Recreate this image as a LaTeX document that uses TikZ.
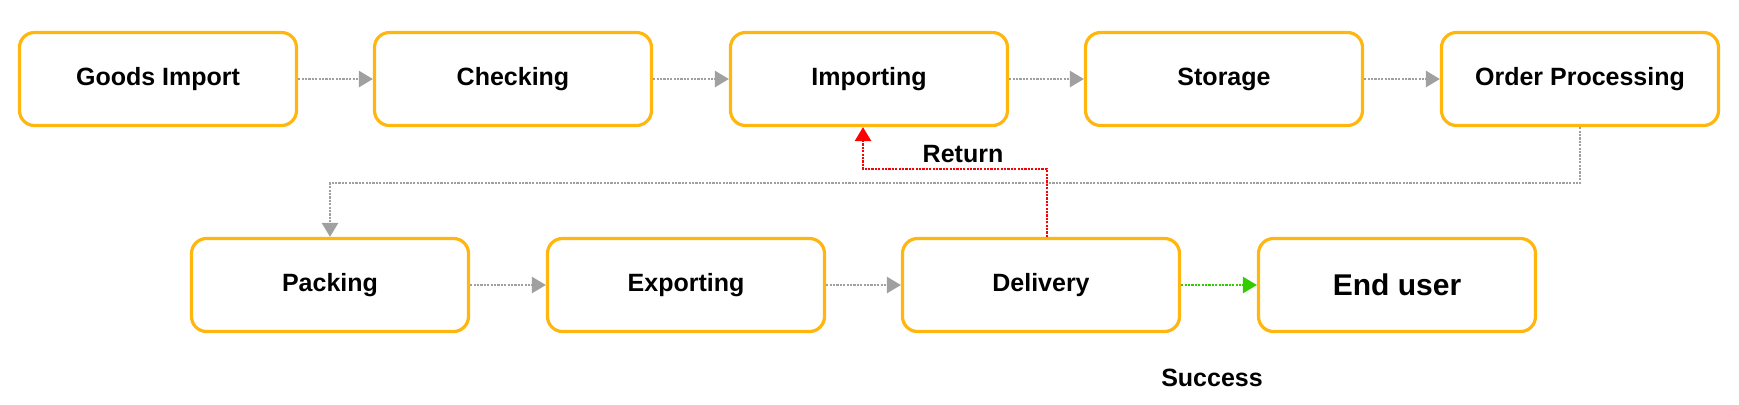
\documentclass[tikz,border=0pt]{standalone}
\usepackage{fontspec}
\setmainfont{Liberation Sans}
\usetikzlibrary{arrows.meta}
\definecolor{boxorange}{HTML}{FFB60F}
\definecolor{linkgray}{HTML}{A0A0A0}
\definecolor{backred}{HTML}{FF0000}
\definecolor{okgreen}{HTML}{33CC00}

\begin{document}
\begin{tikzpicture}
  [x=0.5pt, y=-0.5pt,
   stage/.style={rectangle, rounded corners=7.5pt, draw=boxorange, line width=1.6pt,
     minimum width=138.5pt, minimum height=46.5pt, inner sep=0pt,
     font=\fontsize{12.5}{15}\selectfont\bfseries},
   lbl/.style={inner sep=0pt, font=\fontsize{12.5}{15}\selectfont\bfseries},
   link/.style={line width=1.3pt, dash pattern=on 1.1pt off 0.6pt,
     -{Triangle[length=7pt, width=8pt]}}]
  \useasboundingbox (0,0) rectangle (1739,404);
  % top row
  \foreach \name/\x/\txt in {goods/158/Goods Import, checking/513/Checking,
      importing/869/Importing, storage/1224/Storage, orderp/1580/Order Processing}{
    \node (\name) at (\x, 79) [stage] {\txt};
  }
  % bottom row
  \foreach \name/\x/\txt in {packing/330/Packing, exporting/686/Exporting,
      delivery/1041/Delivery}{
    \node (\name) at (\x, 285) [stage] {\txt};
  }
  \node (enduser) at (1397, 285) [stage, font=\fontsize{15}{18}\selectfont\bfseries] {End user};
  \node (ret) at (963, 154) [lbl] {Return};
  \node (success) at (1212, 378) [lbl] {Success};

  \foreach \a/\b in {goods/checking, checking/importing, importing/storage,
      storage/orderp, packing/exporting, exporting/delivery}{
    \draw [link, linkgray] (\a) -- (\b);
  }
  \draw [link, linkgray] (orderp.south) -- ++(0, 56) -| (packing.north);
  \draw [link, backred] ([xshift=3pt]delivery.north) -- ++(0, -68) -| ([xshift=-3pt]importing.south);
  \draw [link, okgreen] (delivery) -- (enduser);
\end{tikzpicture}
\end{document}
